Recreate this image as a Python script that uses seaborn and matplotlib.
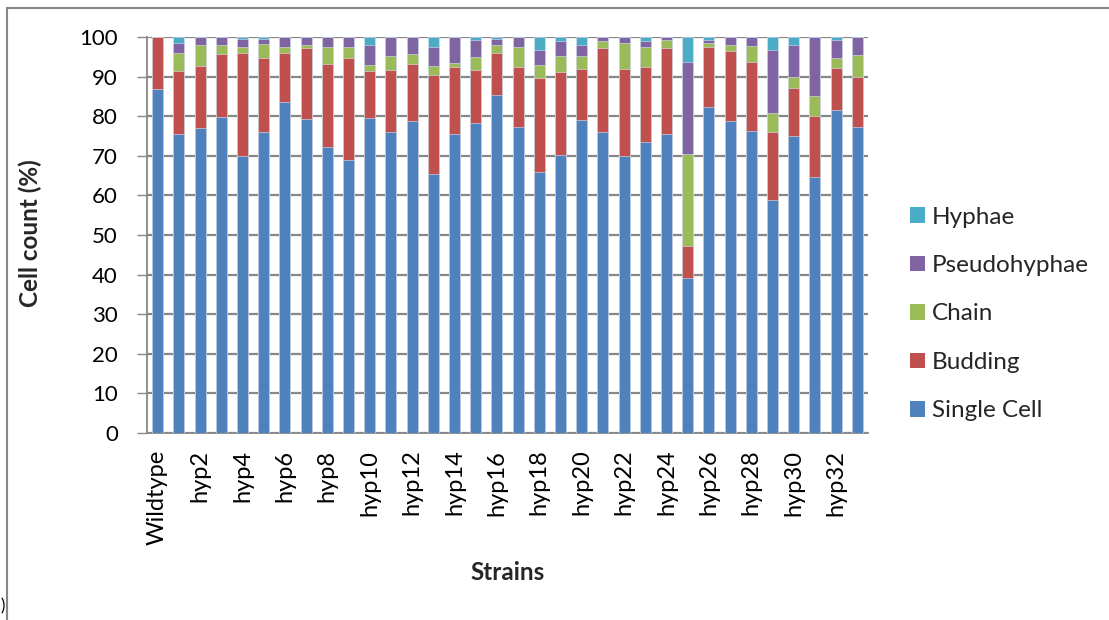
import matplotlib
matplotlib.use("Agg")
import matplotlib.pyplot as plt
import seaborn as sns
import numpy as np
import pandas as pd
from matplotlib.lines import Line2D
from matplotlib.patches import Patch

categories = ["Wildtype"] + [f"hyp{i}" for i in range(1, 34)]

single_cell = [86.8, 75.4, 76.9, 79.8, 70.0, 75.9, 83.7, 79.2, 72.2, 68.9,
               79.5, 75.9, 78.8, 65.4, 75.4, 78.2, 85.4, 77.3, 65.9, 70.2,
               79.0, 75.9, 70.0, 73.4, 75.4, 39.1, 82.4, 78.9, 76.2, 58.9,
               75.1, 64.7, 81.5, 77.3]
budding = [13.2, 16.0, 15.7, 15.8, 25.9, 18.9, 12.2, 17.9, 20.9, 25.7,
           11.9, 15.7, 14.3, 25.0, 16.9, 13.4, 10.5, 15.0, 23.7, 21.0,
           12.8, 21.2, 21.9, 18.9, 21.7, 8.1, 15.0, 17.5, 17.5, 17.2,
           12.0, 15.4, 10.6, 12.6]
chain = [0.0, 4.5, 5.4, 2.5, 1.6, 3.4, 1.6, 0.8, 4.5, 2.9,
         1.6, 3.5, 2.5, 2.3, 1.2, 3.3, 2.1, 5.2, 3.4, 4.0,
         3.4, 1.8, 6.6, 5.2, 2.1, 23.2, 1.2, 1.6, 4.0, 4.8,
         2.9, 5.1, 2.6, 5.5]
pseudohyphae = [0.0, 2.6, 2.0, 1.9, 2.0, 1.3, 2.5, 2.1, 2.4, 2.5,
                5.0, 4.9, 4.4, 4.8, 6.5, 4.3, 1.5, 2.5, 3.6, 3.7,
                2.9, 1.1, 1.5, 1.4, 0.8, 23.3, 0.7, 2.0, 2.3, 15.8,
                8.1, 14.8, 4.5, 4.6]
hyphae = [0.0, 1.5, 0.0, 0.0, 0.5, 0.5, 0.0, 0.0, 0.0, 0.0,
          2.0, 0.0, 0.0, 2.5, 0.0, 0.8, 0.5, 0.0, 3.4, 1.1,
          1.9, 0.0, 0.0, 1.1, 0.0, 6.3, 0.7, 0.0, 0.0, 3.3,
          1.9, 0.0, 0.8, 0.0]

series_names = ["Single Cell", "Budding", "Chain", "Pseudohyphae", "Hyphae"]
series_values = [single_cell, budding, chain, pseudohyphae, hyphae]
colors = ["#4F81BD", "#C0504D", "#9BBB59", "#8064A2", "#4BACC6"]

sns.set_theme(style="white")
plt.rcParams["font.family"] = ["Lato", "DejaVu Sans"]

fig = plt.figure(figsize=(11.09, 6.2), dpi=100)
ax = fig.add_axes([147 / 1109, 1 - 433 / 620, (868 - 147) / 1109, (433 - 37) / 620])

# cumulative stacks, draw tallest first so lower layers overlay
cum = np.cumsum(np.array(series_values), axis=0)
cum = np.minimum(cum, 100.0)
for i in range(len(series_names) - 1, -1, -1):
    df = pd.DataFrame({"strain": categories, "value": cum[i]})
    sns.barplot(data=df, x="strain", y="value", order=categories,
                color=colors[i], saturation=1, width=0.52,
                edgecolor="#dce6f2", linewidth=0.4, ax=ax, zorder=3)

ax.set_xlim(-0.5, len(categories) - 0.5)
ax.set_ylim(0, 100)
ax.set_yticks(np.arange(0, 101, 10))
ax.yaxis.grid(True, color="#878787", linewidth=1.6, zorder=0)
ax.set_axisbelow(True)
ax.xaxis.grid(False)

for s in ["top", "right"]:
    ax.spines[s].set_visible(False)
for s in ["left", "bottom"]:
    ax.spines[s].set_color("#878787")
    ax.spines[s].set_linewidth(1.3)

ax.set_xticks(np.arange(0, len(categories), 2))
ax.set_xticklabels(categories[::2], rotation=90, fontsize=17, color="black")
ax.set_xticks(np.arange(-0.5, len(categories), 1), minor=True)
ax.tick_params(axis="x", which="major", length=0, pad=12)
ax.tick_params(axis="x", which="minor", length=6, width=1.0, color="#878787", direction="out")
ax.tick_params(axis="y", which="major", length=7, width=1.0, color="#878787",
               direction="out", labelsize=16, labelcolor="black", pad=14, left=True)

ax.set_xlabel("Strains", fontsize=17.5, fontweight="bold")
ax.set_ylabel("Cell count (%)", fontsize=17.5, fontweight="bold")
ax.xaxis.set_label_coords(0.5, (433 - 561) / 396)
ax.yaxis.set_label_coords((42 - 147) / 721, 0.505)

handles = [Patch(facecolor=colors[i], edgecolor="none") for i in range(len(series_names) - 1, -1, -1)]
labels = series_names[::-1]
fig.legend(handles, labels, loc="center left", bbox_to_anchor=(888 / 1109, 1 - 314 / 620),
           frameon=False, fontsize=17.5, handlelength=0.62, handleheight=0.62,
           handletextpad=0.3, labelspacing=1.13)

# outer chart frame
fig.add_artist(Line2D([7 / 1109, 7 / 1109], [0, 1 - 8 / 620], transform=fig.transFigure,
                      color="#878787", linewidth=1.5))
fig.add_artist(Line2D([7 / 1109, 1], [1 - 8 / 620, 1 - 8 / 620], transform=fig.transFigure,
                      color="#878787", linewidth=1.5))
fig.text(0.0005, 6 / 620, ")", fontsize=12, color="black", ha="left", va="bottom")

fig.savefig("out.png", dpi=100)
